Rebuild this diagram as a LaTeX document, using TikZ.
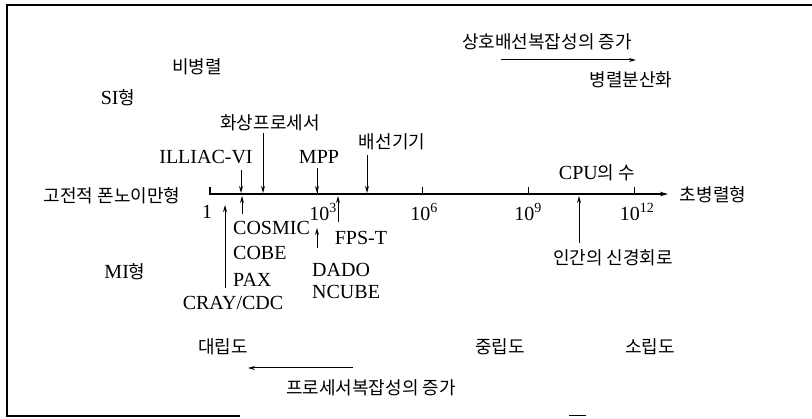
\documentclass[tikz,border=0pt]{standalone}
\usepackage{fontspec}
\setmainfont{Liberation Serif}
\newfontfamily\kr{Noto Sans CJK KR}
\usetikzlibrary{arrows.meta}
\newcommand\K[1]{{\kr\fontsize{18}{22}\selectfont #1}}
\begin{document}
\begin{tikzpicture}[x=1pt,y=-1pt,
  lat/.style={inner sep=0pt, font=\fontsize{20}{24}\selectfont},
  kor/.style={inner sep=0pt, font=\fontsize{18}{22}\selectfont\kr},
  ln/.style={line width=1pt},
  arr/.style={line width=1pt, -{Stealth[length=7pt,width=4pt]}},
  axisline/.style={line width=1.2pt, -{Stealth[length=8pt,width=4.5pt]}}]
\useasboundingbox (0,0) rectangle (812,419);
% frame
\draw[line width=1.2pt] (812,5) -- (7,5) -- (7,416) -- (240,416);
\draw[ln] (569,416) -- (586,416);
% axis
\coordinate (ax0) at (210,194);
\coordinate (ax1) at (668,194);
\coordinate (ax0t) at (210,187);
\draw[axisline] (ax0t) -- (ax0) -- (ax1);
\foreach \x/\n in {317/t3,422/t6,528/t9,634/t12}{
  \coordinate (\n) at (\x,194);
  \draw[ln] (\n) -- ++(0,-7);
}
% texts
\node[kor] (vn) at (112,196) {고전적 폰노이만형};
\node[kor] (sup) at (713,195) {초병렬형};
\node[lat] (one) at (207,212) {1};
\node[lat] (e3) at (323,212) {10\textsuperscript{3}};
\node[lat] (e6) at (424,212) {10\textsuperscript{6}};
\node[lat] (e9) at (528,212) {10\textsuperscript{9}};
\node[lat] (e12) at (637,212) {10\textsuperscript{12}};
\node[lat] (cpu) at (597,173) {CPU\K{의 수}};
\node[kor] (brain) at (613,258) {인간의 신경회로};
\node[kor] (top) at (547,42) {상호배선복잡성의 증가};
\node[kor] (par) at (631,80) {병렬분산화};
\node[kor] (np) at (197,67) {비병렬};
\node[lat] (si) at (118,98) {SI\K{형}};
\node[kor] (img) at (270,123) {화상프로세서};
\node[lat] (ill) at (206,157) {ILLIAC-VI};
\node[lat] (mpp) at (319,157) {MPP};
\node[kor] (wire) at (392,142) {배선기기};
\node[lat, anchor=west] (cosmic) at (233,228) {COSMIC};
\node[lat, anchor=west] (cobe) at (233,253) {COBE};
\node[lat, anchor=west] (pax) at (233,280) {PAX};
\node[lat] (cray) at (233,303) {CRAY/CDC};
\node[lat] (mi) at (125,272) {MI\K{형}};
\node[lat] (fps) at (361,238) {FPS-T};
\node[lat, anchor=west] (dado) at (312,270) {DADO};
\node[lat, anchor=west] (ncube) at (312,292) {NCUBE};
\node[kor] (large) at (223,347) {대립도};
\node[kor] (mid) at (500,347) {중립도};
\node[kor] (small) at (650,347) {소립도};
\node[kor] (proc) at (371,388) {프로세서복잡성의 증가};
% trend arrows
\coordinate (ta0) at (501,60);
\coordinate (ta1) at (636,60);
\draw[arr] (ta0) -- (ta1);
\coordinate (ba0) at (353,368);
\coordinate (ba1) at (248,368);
\draw[arr] (ba0) -- (ba1);
% pointer arrows
\coordinate (pIll0) at (241,170);  \coordinate (pIll1) at (241,193);
\coordinate (pImg0) at (263,133);  \coordinate (pImg1) at (263,193);
\coordinate (pMpp0) at (317,168);  \coordinate (pMpp1) at (317,193);
\coordinate (pWir0) at (367,155);  \coordinate (pWir1) at (367,193);
\coordinate (pCos0) at (242,214);  \coordinate (pCos1) at (242,196);
\coordinate (pCra0) at (225,288);  \coordinate (pCra1) at (225,205);
\coordinate (pFps0) at (338,222);  \coordinate (pFps1) at (338,196);
\coordinate (pDad0) at (317,248);  \coordinate (pDad1) at (317,228);
\coordinate (pBrn0) at (579,243);  \coordinate (pBrn1) at (579,196);
\foreach \p in {Ill,Img,Mpp,Wir,Cos,Cra,Fps,Dad,Brn}{
  \draw[arr] (p\p0) -- (p\p1);
}
\end{tikzpicture}
\end{document}
